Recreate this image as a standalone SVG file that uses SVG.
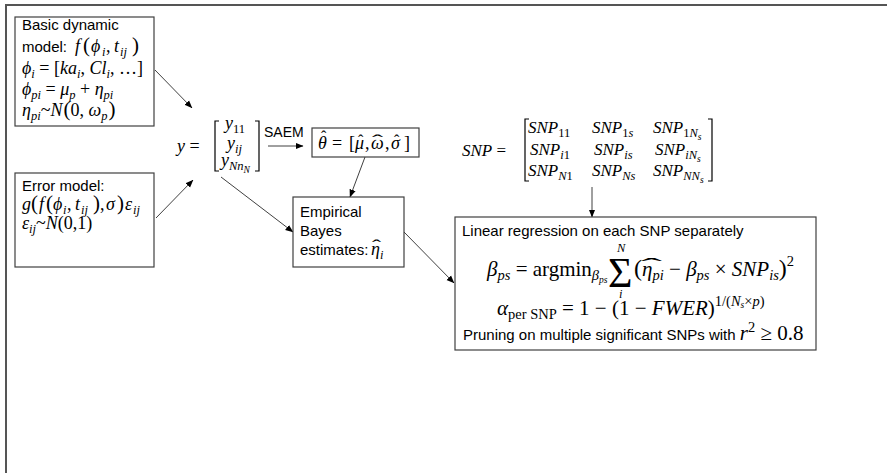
<svg xmlns="http://www.w3.org/2000/svg" width="887" height="473" viewBox="0 0 887 473">
<style>
.s{font-family:"Liberation Sans",Arial,sans-serif;font-size:15px;fill:#000}
.m{font-family:"Liberation Serif","DejaVu Serif",serif;font-size:18px;fill:#000}
.m17{font-size:17px}
.r{font-size:21px}
.i{font-style:italic}
.sb{font-size:12.5px}
.rs{font-size:14.5px}
.ss{font-size:9.5px}
.bp{font-size:21px}
.hh{font-size:16px;font-style:normal}
.box{fill:#fff;stroke:#404040;stroke-width:1.2}
.br{fill:none;stroke:#000;stroke-width:1.2}
.c{stroke:#404040;stroke-width:1;fill:none;marker-end:url(#ah)}
</style>
<defs>
<marker id="ah" markerUnits="userSpaceOnUse" markerWidth="8" markerHeight="8" viewBox="0 0 8 8" refX="7.5" refY="4" orient="auto">
<path d="M0,0.8 L8,4 L0,7.2 Z" fill="#000"/>
</marker>
</defs>
<rect width="887" height="473" fill="#fff"/>
<path d="M6,473 V5 H887" fill="none" stroke="#555" stroke-width="2"/>

<g id="connectors">
<line class="c" x1="155" y1="70" x2="192" y2="108"/>
<line class="c" x1="156" y1="218" x2="193" y2="180"/>
<line class="c" x1="268" y1="146" x2="303" y2="146"/>
<line class="c" x1="365" y1="157" x2="350" y2="197"/>
<line class="c" x1="221" y1="177" x2="293" y2="232"/>
<line class="c" x1="404" y1="232" x2="454" y2="283"/>
<line class="c" x1="592" y1="187" x2="592" y2="217"/>
</g>

<g id="dynamic-model">
<rect class="box" x="15" y="17" width="139" height="109"/>
<text class="s" x="22" y="30">Basic dynamic</text>
<text x="22" y="52"><tspan class="s">model: </tspan><tspan class="m i" x="75">f</tspan><tspan class="m bp" x="83">(</tspan><tspan class="m i" x="91">ϕ</tspan><tspan class="m i sb" x="102" dy="3.5">i</tspan><tspan class="m" x="106" dy="-3.5">,</tspan><tspan class="m i" x="114">t</tspan><tspan class="m i sb" x="120" dy="3.5">ij</tspan><tspan class="m bp" x="132" dy="-3.5">)</tspan></text>
<text class="m" x="22" y="74"><tspan class="i">ϕ</tspan><tspan class="i sb" dy="3.5">i</tspan><tspan dy="-3.5"> = [</tspan><tspan class="i">ka</tspan><tspan class="i sb" dy="3.5">i</tspan><tspan dy="-3.5">, </tspan><tspan class="i">Cl</tspan><tspan class="i sb" dy="3.5">i</tspan><tspan dy="-3.5">, …]</tspan></text>
<text class="m" x="22" y="95"><tspan class="i">ϕ</tspan><tspan class="i sb" dy="3.5">pi</tspan><tspan dy="-3.5"> = </tspan><tspan class="i">μ</tspan><tspan class="i sb" dy="3.5">p</tspan><tspan dy="-3.5"> + </tspan><tspan class="i">η</tspan><tspan class="i sb" dy="3.5">pi</tspan></text>
<text class="m" x="22" y="116"><tspan class="i">η</tspan><tspan class="i sb" dy="3.5">pi</tspan><tspan dy="-3.5">~</tspan><tspan class="i">N</tspan><tspan class="bp" dx="1">(</tspan><tspan>0, </tspan><tspan class="i">ω</tspan><tspan class="i sb" dy="3.5">p</tspan><tspan class="bp" dy="-3.5" dx="1">)</tspan></text>
</g>

<g id="error-model">
<rect class="box" x="15" y="173" width="139" height="94"/>
<text class="s" x="22" y="191">Error model:</text>
<text class="m" x="22" y="210"><tspan class="i">g</tspan><tspan class="bp" x="31">(</tspan><tspan class="i" x="39">f</tspan><tspan class="bp" x="46">(</tspan><tspan class="i" x="53">ϕ</tspan><tspan class="i sb" x="63" dy="3.5">i</tspan><tspan x="67" dy="-3.5">,</tspan><tspan class="i" x="75">t</tspan><tspan class="i sb" x="81" dy="3.5">ij</tspan><tspan class="bp" x="93" dy="-3.5">)</tspan><tspan x="100">,</tspan><tspan class="i" x="106">σ</tspan><tspan class="bp" x="117">)</tspan><tspan class="i" x="125">ε</tspan><tspan class="i sb" x="133" dy="3.5">ij</tspan></text>
<text class="m" x="22" y="229"><tspan class="i">ε</tspan><tspan class="i sb" dy="3.5">ij</tspan><tspan dy="-3.5">~</tspan><tspan class="i">N</tspan><tspan>(0,1)</tspan></text>
</g>

<g id="y-vector">
<text class="m" x="177" y="152"><tspan class="i">y</tspan><tspan> =</tspan></text>
<path class="br" d="M219,121 H215 V171 H219"/>
<path class="br" d="M255,121 H259 V171 H255"/>
<text class="m" x="225" y="129"><tspan class="i">y</tspan><tspan class="sb" dy="3.5">11</tspan></text>
<text class="m" x="227" y="149"><tspan class="i">y</tspan><tspan class="i sb" dy="3.5">ij</tspan></text>
<text class="m" x="221" y="166"><tspan class="i">y</tspan><tspan class="i sb" dy="3.5">Nn</tspan><tspan class="i ss" dy="3">N</tspan></text>
<text class="s" x="264" y="137" style="font-size:14px">SAEM</text>
</g>

<g id="theta">
<rect class="box" x="312" y="128" width="107" height="29"/>
<text class="m" y="149"><tspan class="i" x="318">θ</tspan><tspan class="hh" x="321" dy="-7">ˆ</tspan><tspan x="332" dy="7">=</tspan><tspan x="349">[</tspan><tspan class="i" x="355">μ</tspan><tspan class="hh" x="358" dy="-3">ˆ</tspan><tspan x="365" dy="3">,</tspan><tspan class="i" x="371">ω</tspan><tspan class="hh" x="372" dy="-3" textLength="11" lengthAdjust="spacingAndGlyphs">ˆ</tspan><tspan x="385" dy="3">,</tspan><tspan class="i" x="391">σ</tspan><tspan class="hh" x="394" dy="-3">ˆ</tspan><tspan x="404" dy="3">]</tspan></text>
</g>

<g id="empirical-bayes">
<rect class="box" x="293" y="197" width="111" height="70"/>
<text class="s" x="300" y="217">Empirical</text>
<text class="s" x="300" y="236">Bayes</text>
<text x="300" y="255"><tspan class="s">estimates: </tspan><tspan class="m i" x="371">η</tspan><tspan class="m hh" x="372" dy="-4" textLength="9" lengthAdjust="spacingAndGlyphs">ˆ</tspan><tspan class="m i sb" x="380" dy="7.5">i</tspan></text>
</g>

<g id="snp-matrix">
<text class="m m17" x="462" y="156"><tspan class="i">SNP</tspan><tspan>  =</tspan></text>
<path class="br" d="M529,119 H525 V181 H529"/>
<path class="br" d="M708,119 H712 V181 H708"/>
<text class="m m17" x="528" y="133"><tspan class="i">SNP</tspan><tspan class="sb" dy="3.5">11</tspan></text>
<text class="m m17" x="592" y="133"><tspan class="i">SNP</tspan><tspan class="sb" dy="3.5">1</tspan><tspan class="sb i">s</tspan></text>
<text class="m m17" x="653" y="133"><tspan class="i">SNP</tspan><tspan class="sb" dy="3.5">1</tspan><tspan class="sb i">N</tspan><tspan class="ss i" dy="3">s</tspan></text>
<text class="m m17" x="530" y="155"><tspan class="i">SNP</tspan><tspan class="sb i" dy="3.5">i</tspan><tspan class="sb">1</tspan></text>
<text class="m m17" x="594" y="155"><tspan class="i">SNP</tspan><tspan class="sb i" dy="3.5">is</tspan></text>
<text class="m m17" x="655" y="155"><tspan class="i">SNP</tspan><tspan class="sb i" dy="3.5">iN</tspan><tspan class="ss i" dy="3">s</tspan></text>
<text class="m m17" x="528" y="176"><tspan class="i">SNP</tspan><tspan class="sb i" dy="3.5">N</tspan><tspan class="sb">1</tspan></text>
<text class="m m17" x="592" y="176"><tspan class="i">SNP</tspan><tspan class="sb i" dy="3.5">Ns</tspan></text>
<text class="m m17" x="653" y="176"><tspan class="i">SNP</tspan><tspan class="sb i" dy="3.5">NN</tspan><tspan class="ss i" dy="3">s</tspan></text>
</g>

<g id="regression">
<rect class="box" x="455" y="217" width="361" height="133"/>
<text class="s" x="462" y="236">Linear regression on each SNP separately</text>
<text class="m r" x="487" y="276"><tspan class="i">β</tspan><tspan class="i rs" dy="4">ps</tspan><tspan dy="-4"> = argmin</tspan><tspan class="i rs" dy="4">β</tspan><tspan class="i ss" dy="3">ps</tspan><tspan x="608" dy="4" style="font-size:42px">Σ</tspan><tspan class="i sb" x="617" dy="-35">N</tspan><tspan class="i sb" x="619" dy="46">i</tspan><tspan x="634" dy="-22" font-size="24">(</tspan><tspan class="i" x="642">η</tspan><tspan class="hh" x="641" dy="-5" style="font-size:18px" textLength="21" lengthAdjust="spacingAndGlyphs">ˆ</tspan><tspan class="i rs" x="652.5" dy="9">pi</tspan><tspan dy="-4"> − </tspan><tspan class="i">β</tspan><tspan class="i rs" dy="4">ps</tspan><tspan dy="-4"> × </tspan><tspan class="i">SNP</tspan><tspan class="i rs" dy="4">is</tspan><tspan font-size="24" dy="-4">)</tspan><tspan class="rs" dy="-10">2</tspan></text>
<text class="m r" x="497" y="315"><tspan class="i">α</tspan><tspan class="rs" dy="4">per  SNP</tspan><tspan dy="-4"> = 1 − (1 − </tspan><tspan class="i">FWER</tspan><tspan>)</tspan><tspan class="rs" dy="-9">1/(</tspan><tspan class="rs i">N</tspan><tspan class="ss i" dy="2">s</tspan><tspan class="rs" dy="-2">×</tspan><tspan class="rs i">p</tspan><tspan class="rs">)</tspan></text>
<text x="463" y="340"><tspan class="s">Pruning on multiple significant SNPs with </tspan><tspan class="m r i">r</tspan><tspan class="m rs" dy="-8">2</tspan><tspan class="m r" dy="8"> ≥ 0.8</tspan></text>
</g>
</svg>
